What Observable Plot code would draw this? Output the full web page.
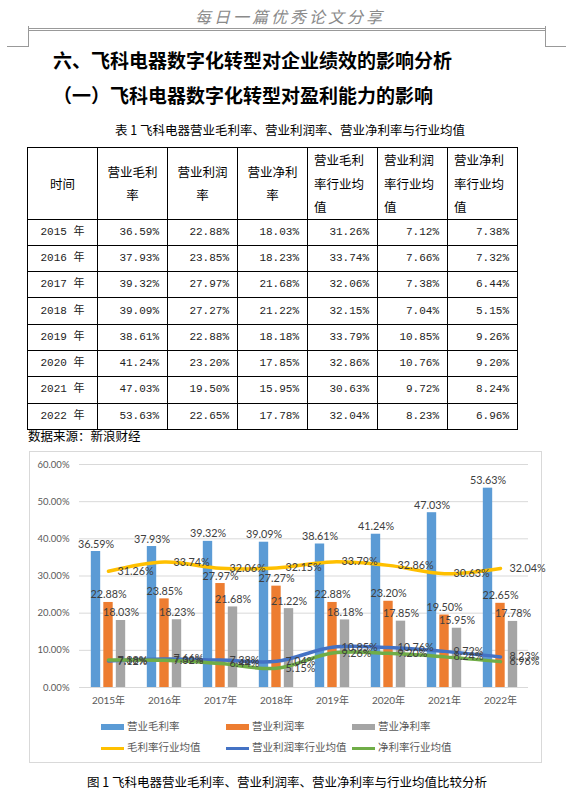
<!DOCTYPE html>
<html><head><meta charset="utf-8">
<script src="https://cdn.jsdelivr.net/npm/d3@7"></script>
<script src="https://cdn.jsdelivr.net/npm/@observablehq/plot@0.6"></script>
<style>
body{margin:0;background:#fff;width:580px;height:798px;position:relative;overflow:hidden;font-family:"Noto Sans CJK SC",sans-serif;color:#000;}
.abs{position:absolute;}
.hl{position:absolute;background:#999;}
#pageHeader{left:0;width:580px;top:5px;text-align:center;font-size:16px;letter-spacing:3px;color:#8a8a8a;line-height:22px;font-style:italic;}
.h1{left:53px;top:48px;font-size:19px;font-weight:bold;line-height:24px;white-space:nowrap;}
.h2{left:53px;top:83px;font-size:19px;font-weight:bold;line-height:24px;white-space:nowrap;}
#tcap{left:0;width:580px;text-align:center;top:121px;font-size:12.5px;line-height:18px;white-space:nowrap;}
#tbl{position:absolute;left:27px;top:147px;width:491px;border-collapse:collapse;table-layout:fixed;}
#tbl td{border:1px solid #000;font-size:12.5px;padding:0;overflow:hidden;}
#tbl tr.hd td{height:69px;line-height:23.5px;}
#tbl tr.rw td{height:25.3px;line-height:25px;}
#tbl td.num{text-align:right;padding-right:8px;font-family:"Liberation Mono","Noto Sans CJK SC",monospace;font-size:11px;color:#222;}
#tbl td.yr{text-align:center;font-family:"Liberation Mono","Noto Sans CJK SC",monospace;font-size:11px;color:#222;}
#tbl td.c{text-align:center;}
#tbl td.l{text-align:left;padding-left:6px;}
#src{left:28px;top:427px;font-size:12.5px;line-height:18px;}
#chartBox{left:29px;top:451px;width:511px;height:310px;border:1px solid #d9d9d9;}
#chart{position:absolute;left:0;top:0;}
.leg{position:absolute;font-size:10.5px;color:#595959;line-height:14px;white-space:nowrap;}
.sw{display:inline-block;width:23px;vertical-align:middle;margin-right:3px;}
#fcap{left:0;width:574px;text-align:center;top:773px;font-size:12.5px;line-height:18px;white-space:nowrap;}
</style></head>
<body>
<div id="pageHeader" class="abs">每日一篇优秀论文分享</div>
<div class="hl" style="left:28px;top:28px;width:517px;height:1px;"></div>
<div class="hl" style="left:28px;top:30px;width:517px;height:1px;"></div>
<div class="hl" style="left:28px;top:26px;width:1px;height:20px;"></div>
<div class="hl" style="left:7px;top:46px;width:22px;height:1px;"></div>
<div class="hl" style="left:545px;top:26px;width:1px;height:20px;"></div>
<div class="hl" style="left:545px;top:46px;width:21px;height:1px;"></div>
<div class="abs h1">六、飞科电器数字化转型对企业绩效的影响分析</div>
<div class="abs h2">（一）飞科电器数字化转型对盈利能力的影响</div>
<div id="tcap" class="abs">表 1 飞科电器营业毛利率、营业利润率、营业净利率与行业均值</div>
<table id="tbl"></table>
<div id="src" class="abs">数据来源：新浪财经</div>
<div id="chartBox" class="abs"><div id="chart"></div><div id="legend"></div></div>
<div id="fcap" class="abs">图 1 飞科电器营业毛利率、营业利润率、营业净利率与行业均值比较分析</div>
<script>
// ---- data ----
const years = ["2015年","2016年","2017年","2018年","2019年","2020年","2021年","2022年"];
const tableYears = ["2015 年","2016 年","2017 年","2018 年","2019 年","2020 年","2021 年","2022 年"];
const grossMargin = [36.59,37.93,39.32,39.09,38.61,41.24,47.03,53.63];
const operatingMargin = [22.88,23.85,27.97,27.27,22.88,23.20,19.50,22.65];
const netMargin = [18.03,18.23,21.68,21.22,18.18,17.85,15.95,17.78];
const grossIndustry = [31.26,33.74,32.06,32.15,33.79,32.86,30.63,32.04];
const operatingIndustry = [7.12,7.66,7.38,7.04,10.85,10.76,9.72,8.23];
const netIndustry = [7.38,7.32,6.44,5.15,9.26,9.20,8.24,6.96];
const yTicks = [0,10,20,30,40,50,60];
const tableHeaders = ["时间","营业毛利<br>率","营业利润<br>率","营业净利<br>率","营业毛利<br>率行业均<br>值","营业利润<br>率行业均<br>值","营业净利<br>率行业均<br>值"];
const barNames = ["营业毛利率","营业利润率","营业净利率"];
const lineNames = ["毛利率行业均值","营业利润率行业均值","净利率行业均值"];

// ---- styles ----
const barColors = ["#5B9BD5","#ED7D31","#A5A5A5"];
const lineColors = ["#FFC000","#4472C4","#70AD47"];
const fmt = v => v.toFixed(2) + "%";

// ---- table ----
const cols = [grossMargin, operatingMargin, netMargin, grossIndustry, operatingIndustry, netIndustry];
let html = "<colgroup>" + tableHeaders.map(()=>"<col>").join("") + "</colgroup>";
html += "<tr class='hd'>" + tableHeaders.map((h,i)=>`<td class='${i<4?"c":"l"}'>${h}</td>`).join("") + "</tr>";
tableYears.forEach((y,r)=>{
  html += `<tr class='rw'><td class='yr'>${y}</td>` + cols.map(c=>`<td class='num'>${fmt(c[r])}</td>`).join("") + "</tr>";
});
document.getElementById("tbl").innerHTML = html;

// ---- chart ----
const W = 511, H = 260, mL = 49, mR = 13, mT = 12, mB = 25;
const bw = (W - mL - mR) / years.length;
const barW = 9.5, step = 12.5;
const barSeries = [grossMargin, operatingMargin, netMargin];
const lineSeries = [grossIndustry, operatingIndustry, netIndustry];
const rows = s => years.map((y,i)=>({year:y, v:s[i]}));

const marks = [Plot.gridY(yTicks, {stroke:"#d9d9d9", strokeOpacity:1})];
barSeries.forEach((s,k)=>{
  const left = bw/2 + (k-1)*step - barW/2;
  marks.push(Plot.barY(rows(s), {x:"year", y:"v", fill:barColors[k], insetLeft:left, insetRight:bw-left-barW}));
});
lineSeries.forEach((s,k)=>{
  marks.push(Plot.line(rows(s), {x:"year", y:"v", stroke:lineColors[k], strokeWidth:3.5, curve:"catmull-rom"}));
});
barSeries.forEach((s,k)=>{
  marks.push(Plot.text(rows(s), {x:"year", y:"v", text:d=>fmt(d.v), dx:(k-1)*step, dy:-4, lineAnchor:"bottom", fill:"#404040", fontSize:10.8}));
});
lineSeries.forEach((s,k)=>{
  marks.push(Plot.text(rows(s), {x:"year", y:"v", text:d=>fmt(d.v), dx:9, textAnchor:"start", fill:"#404040", fontSize:10.8}));
});
marks.push(Plot.axisY({ticks:yTicks, tickFormat:fmt, tickSize:0, tickPadding:10, fontSize:9.5}));
marks.push(Plot.axisX({tickSize:0, tickPadding:9, fontSize:10}));

const chart = Plot.plot({
  width: W, height: H,
  marginLeft: mL, marginRight: mR, marginTop: mT, marginBottom: mB,
  x: {type:"band", domain: years, padding:0, label:null},
  y: {domain:[0,60], label:null},
  style: {fontFamily:"Lato, 'Noto Sans CJK SC', sans-serif", color:"#595959", background:"transparent", overflow:"visible"},
  marks
});
document.getElementById("chart").appendChild(chart);

// ---- legend ----
const leg = document.getElementById("legend");
const legX = [71, 196, 322];
barNames.forEach((n,k)=>{
  const d = document.createElement("div");
  d.className = "leg"; d.style.left = legX[k] + "px"; d.style.top = "267px";
  d.innerHTML = `<span class="sw" style="height:6px;background:${barColors[k]}"></span>${n}`;
  leg.appendChild(d);
});
lineNames.forEach((n,k)=>{
  const d = document.createElement("div");
  d.className = "leg"; d.style.left = legX[k] + "px"; d.style.top = "288px";
  d.innerHTML = `<span class="sw" style="height:3px;background:${lineColors[k]}"></span>${n}`;
  leg.appendChild(d);
});
</script>
</body></html>
